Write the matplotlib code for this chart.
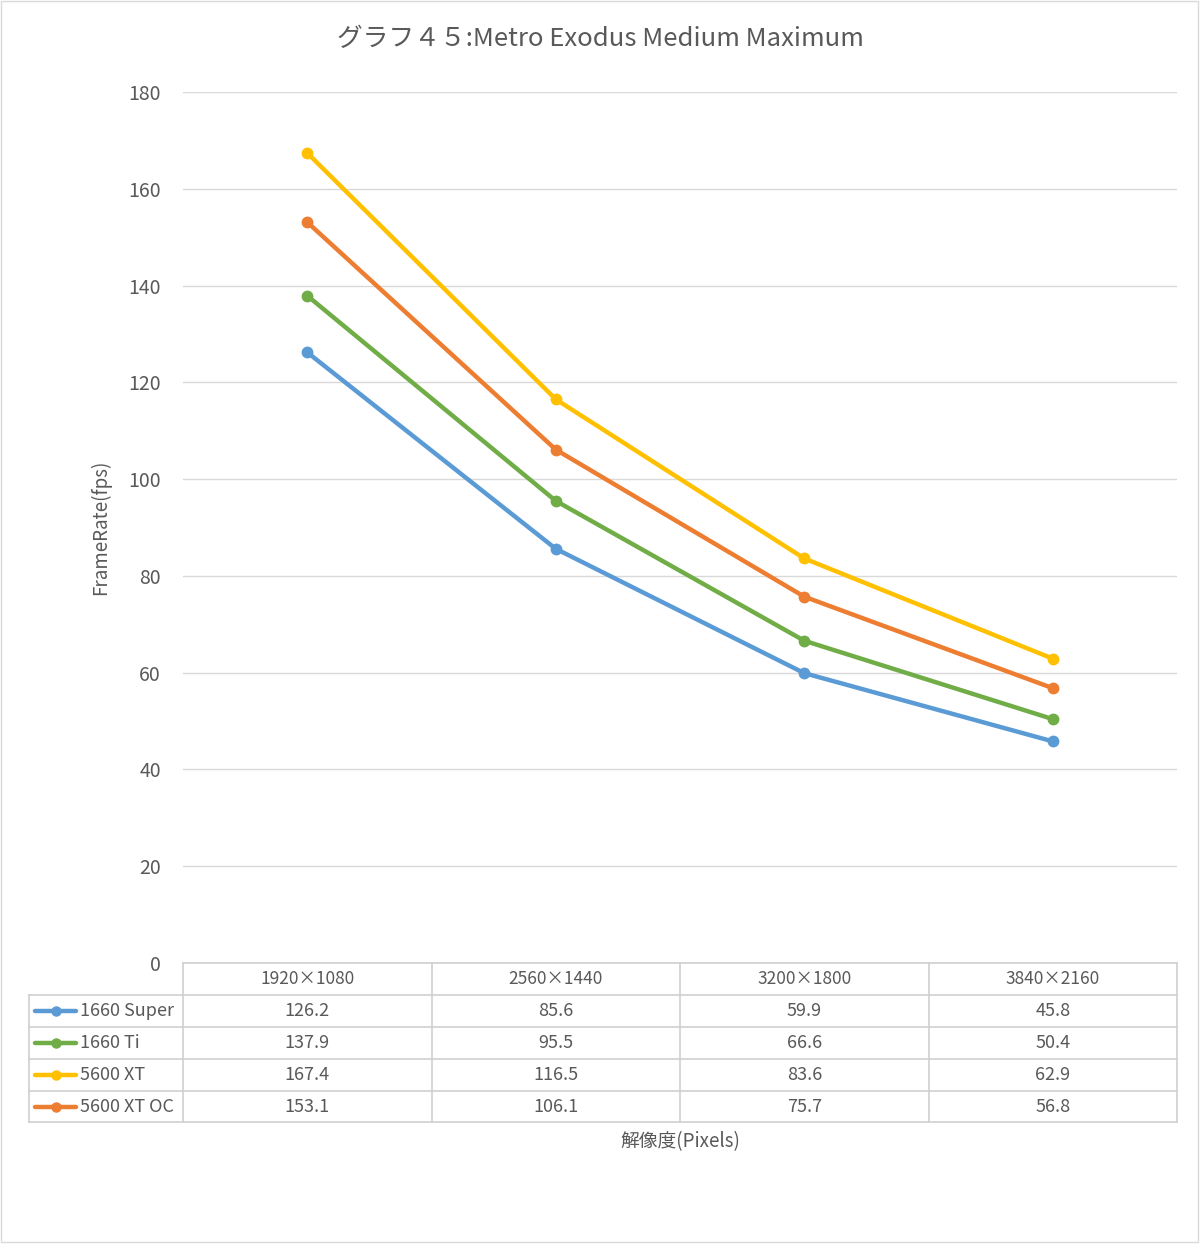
import matplotlib
matplotlib.use("Agg")
from matplotlib import pyplot as plt
from matplotlib.lines import Line2D
from matplotlib.patches import Rectangle

plt.rcParams['font.family'] = ['Noto Sans CJK JP', 'DejaVu Sans']

# data
resolutions = ["1920×1080", "2560×1440", "3200×1800", "3840×2160"]
series_names = ["1660 Super", "1660 Ti", "5600 XT", "5600 XT OC"]
fps_1660_super = [126.2, 85.6, 59.9, 45.8]
fps_1660_ti = [137.9, 95.5, 66.6, 50.4]
fps_5600_xt = [167.4, 116.5, 83.6, 62.9]
fps_5600_xt_oc = [153.1, 106.1, 75.7, 56.8]
y_ticks = [0, 20, 40, 60, 80, 100, 120, 140, 160, 180]

series_values = [fps_1660_super, fps_1660_ti, fps_5600_xt, fps_5600_xt_oc]
colors = ["#5B9BD5", "#70AD47", "#FFC000", "#ED7D31"]
txt_color = "#595959"
grid_color = "#D9D9D9"

W, H = 1200, 1244
fig = plt.figure(figsize=(W / 100, H / 100), dpi=100)

def fx(px):
    return px / W

def fy(py):
    return 1 - py / H

# outer chart border
fig.patches.append(Rectangle((fx(1), fy(1242)), fx(1197), 1241 / H, transform=fig.transFigure,
                             fill=False, edgecolor="#D9D9D9", linewidth=1))

left, right, top, bottom = 183, 1177, 92, 963
ax = fig.add_axes([fx(left), fy(bottom), fx(right - left), (bottom - top) / H])

x = list(range(len(resolutions)))
for vals, c in zip(series_values, colors):
    ax.plot(x, vals, color=c, linewidth=3.2, marker="o", markersize=7.5, solid_capstyle="round", zorder=3)

ax.set_xlim(-0.5, len(resolutions) - 0.5)
ax.set_ylim(0, 180)
ax.set_yticks(y_ticks)
ax.set_xticks([])
ax.yaxis.grid(True, color=grid_color, linewidth=1)
ax.set_axisbelow(True)
for s in ax.spines.values():
    s.set_visible(False)
ax.tick_params(axis="y", length=0, labelsize=14, labelcolor=txt_color, pad=16)

ax.set_ylabel("FrameRate(fps)", fontsize=13.5, color=txt_color, labelpad=12)

fig.text(0.5, fy(39), "グラフ４５:Metro Exodus Medium Maximum", ha="center", va="center",
         fontsize=18.5, color=txt_color)

# data table
tbl_left = 29
col_w = (right - left) / len(resolutions)
row_h = [32, 32, 32, 32, 31]
row_y = [bottom]
for h in row_h:
    row_y.append(row_y[-1] + h)
line_kw = dict(color="#D0D0D0", linewidth=1.2, transform=fig.transFigure)

# horizontal lines
fig.add_artist(Line2D([fx(left), fx(right)], [fy(row_y[0])] * 2, **line_kw))
for yy in row_y[1:]:
    fig.add_artist(Line2D([fx(tbl_left), fx(right)], [fy(yy)] * 2, **line_kw))
# vertical lines
fig.add_artist(Line2D([fx(tbl_left)] * 2, [fy(row_y[1]), fy(row_y[-1])], **line_kw))
for i in range(len(resolutions) + 1):
    xx = left + i * col_w
    fig.add_artist(Line2D([fx(xx)] * 2, [fy(row_y[0]), fy(row_y[-1])], **line_kw))

for i, r in enumerate(resolutions):
    cx = left + (i + 0.5) * col_w
    fig.text(fx(cx), fy((row_y[0] + row_y[1]) / 2), r, ha="center", va="center",
             fontsize=12.5, color=txt_color)

for j, (name, vals, c) in enumerate(zip(series_names, series_values, colors)):
    cy = fy((row_y[j + 1] + row_y[j + 2]) / 2)
    fig.add_artist(Line2D([fx(35), fx(76)], [cy, cy], color=c, linewidth=3.2,
                          transform=fig.transFigure, solid_capstyle="round"))
    fig.add_artist(Line2D([fx(55.5)], [cy], color=c, marker="o", markersize=6.5,
                          transform=fig.transFigure))
    fig.text(fx(80), cy, name, ha="left", va="center", fontsize=13, color=txt_color)
    for i, v in enumerate(vals):
        cx = left + (i + 0.5) * col_w
        fig.text(fx(cx), cy, f"{v:.1f}", ha="center", va="center", fontsize=13, color=txt_color)

fig.text(fx((left + right) / 2), fy(1142), "解像度(Pixels)", ha="center", va="center",
         fontsize=13.5, color=txt_color)

fig.savefig("out.png", dpi=100, facecolor="white")
